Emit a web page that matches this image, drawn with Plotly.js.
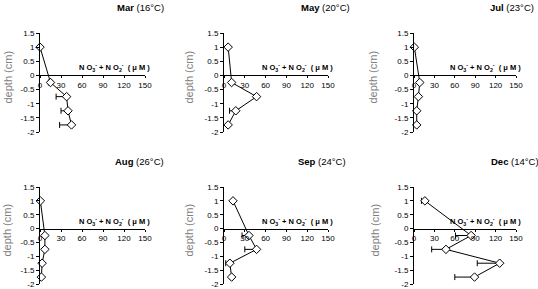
<!DOCTYPE html>
<html><head><meta charset="utf-8">
<script src="https://cdn.plot.ly/plotly-3.0.1.min.js"></script>
<style>html,body{margin:0;padding:0;background:#fff}#c{width:538px;height:289px}</style>
</head><body><div id="c"></div>
<script>
var depths = [1, -0.25, -0.75, -1.25, -1.75];
var months = ["Mar", "May", "Jul", "Aug", "Sep", "Dec"];
var temps = ["16°C", "20°C", "23°C", "26°C", "24°C", "14°C"];
var marVals = [0, 15, 38, 40, 45];
var marErr  = [0, 3, 15, 10, 17];
var mayVals = [6, 11, 47, 17, 6];
var mayErr  = [0, 0, 0, 9, 0];
var julVals = [0.5, 8.5, 6.5, 4, 4];
var julErr  = [0, 0, 0, 0, 0];
var augVals = [0.5, 7, 7, 3, 2];
var augErr  = [0, 0, 0, 0, 0];
var sepVals = [13, 36, 47, 8.5, 11];
var sepErr  = [0, 10, 17, 6, 2];
var decVals = [16, 84, 47, 126, 89];
var decErr  = [5, 23, 21, 33, 29];
var xTicks = [0, 30, 60, 90, 120, 150];
var yTicks = [-2, -1.5, -1, -0.5, 0, 0.5, 1, 1.5];
var yTickText = ["-2", "-1.5", "-1", "-0.5", "0", "0.5", "1", "1.5"];

var vals = [marVals, mayVals, julVals, augVals, sepVals, decVals];
var errs = [marErr, mayErr, julErr, augErr, sepErr, decErr];

var W = 538, H = 289;
var cols = [[40, 145], [224, 328], [414, 516]];
var rows = [[33, 132], [187, 284]];
var titleRight = [166, 352, 536, 166, 348, 541];
var titleY = [8, 8, 8, 161, 161, 161];
var depthX = [7, 188, 372, 6, 188, 374];

var FONT = "Liberation Sans, Arial, sans-serif";
var traces = [], layout = {
  width: W, height: H, margin: {l:0, r:0, t:0, b:0},
  paper_bgcolor: "#fff", plot_bgcolor: "rgba(0,0,0,0)",
  showlegend: false, font: {family: FONT, size: 8, color: "#000"},
  annotations: []
};

for (var i = 0; i < 6; i++) {
  var c = cols[i % 3], r = rows[Math.floor(i / 3)];
  var n = i + 1, xs = n === 1 ? "" : n;
  var zeros = depths.map(function(){return 0;});
  traces.push({
    type: "scatter", mode: "lines+markers",
    x: vals[i], y: depths, xaxis: "x" + xs, yaxis: "y" + xs,
    cliponaxis: false,
    line: {color: "#000", width: 1},
    marker: {symbol: "diamond", size: 6.5, color: "#fff", line: {color: "#000", width: 1}},
    error_x: {type: "data", symmetric: false, array: zeros, arrayminus: errs[i],
              color: "#000", thickness: 1, width: 3}
  });
  var yd0 = 1 - r[1] / H, yd1 = 1 - r[0] / H;
  var pos = yd0 + (2 / 3.5) * (yd1 - yd0);
  layout["xaxis" + xs] = {
    domain: [c[0] / W, c[1] / W], range: [0, 150], anchor: "free", position: pos,
    tickvals: xTicks, ticktext: xTicks.map(String), showline: true, linecolor: "#000", linewidth: 1,
    ticks: "outside", ticklen: 2, tickcolor: "#000", showgrid: false, zeroline: false,
    tickfont: {size: 8, family: FONT}, fixedrange: true, automargin: false
  };
  layout["yaxis" + xs] = {
    domain: [yd0, yd1], range: [-2, 1.5], anchor: "x" + xs,
    tickvals: yTicks, ticktext: yTickText, showline: true, linecolor: "#000", linewidth: 1,
    ticks: "outside", ticklen: 3, tickcolor: "#000", showgrid: false, zeroline: false,
    tickfont: {size: 8, family: FONT}, fixedrange: true, automargin: false
  };
  layout.annotations.push({
    xref: "paper", yref: "paper", x: titleRight[i] / W, y: 1 - titleY[i] / H,
    xanchor: "right", yanchor: "middle", showarrow: false,
    text: "<b>" + months[i] + "</b> (" + temps[i] + ")",
    font: {size: 9.5, family: FONT, color: "#000"}
  });
  layout.annotations.push({
    xref: "paper", yref: "paper", x: depthX[i] / W, y: 1 - ((r[0] + r[1]) / 2 - 5) / H,
    xanchor: "center", yanchor: "middle", showarrow: false, textangle: -90,
    text: "depth (cm)", font: {size: 11, family: FONT, color: "#808080"}
  });
  layout.annotations.push({
    xref: "x" + xs, yref: "y" + xs, x: 150, y: 0, xanchor: "right", yanchor: "bottom",
    xshift: 7, yshift: 0, showarrow: false,
    text: "<b>N O<sub>3</sub><sup>-</sup> + N O<sub>2</sub><sup>-</sup>  ( μ M )</b>",
    font: {size: 7.5, family: FONT, color: "#000"}
  });
}

Plotly.newPlot("c", traces, layout, {staticPlot: true, displayModeBar: false});
</script></body></html>
